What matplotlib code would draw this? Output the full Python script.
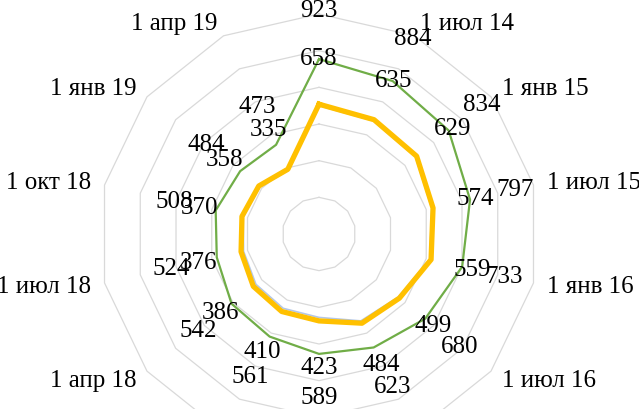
import numpy as np
import matplotlib.pyplot as plt

plt.rcParams['font.family'] = ['Liberation Serif', 'DejaVu Serif']

dates = ['1 янв 14', '1 июл 14', '1 янв 15', '1 июл 15', '1 янв 16', '1 июл 16',
         '1 янв 17', '1 июл 17', '1 янв 18', '1 апр 18', '1 июл 18', '1 окт 18',
         '1 янв 19', '1 апр 19']
outer_vals = [923, 884, 834, 797, 733, 680, 623, 589, 561, 542, 524, 508, 484, 473]
mid_vals = [658, 635, 629, 574, 559, 499, 484, 423, 410, 386, 376, 370, 358, 335]
green = [654, 626, 605, 545, 501, 441, 387, 354, 321, 310, 272, 278, 250, 240]
yellow = [408, 392, 381, 338, 327, 261, 240, 174, 169, 158, 136, 131, 120, 92]
blue = [400, 385, 374, 331, 320, 252, 226, 155, 150, 140, 122, 124, 113, 85]
rings = [-100, 100, 300, 500, 700, 900]

n = len(dates)
theta = np.arange(n) * 2 * np.pi / n
th_c = np.append(theta, theta[0])

def closed(v):
    return np.append(v, v[0])

fig = plt.figure(figsize=(6.39, 4.10), dpi=100)
ax = fig.add_axes([0.15493, -0.10976, 0.68858, 1.07317], projection='polar')
ax.set_theta_zero_location('N')
ax.set_theta_direction(-1)
ax.set_ylim(-300, 900)
ax.axis('off')

# polygon grid
for r in rings:
    ax.plot(th_c, closed(np.full(n, r)), color='#d9d9d9', lw=0.9, clip_on=False, zorder=1)

ax.plot(th_c, closed(blue), color='#b4c7e7', lw=1.2, clip_on=False, zorder=2)
ax.plot(th_c, closed(yellow), color='#ffc000', lw=3.8, clip_on=False, zorder=3)
ax.plot(th_c, closed(green), color='#70ad47', lw=1.6, clip_on=False, zorder=4)

# data labels
for t, v in zip(theta, outer_vals):
    ax.text(t, v, str(v), ha='center', va='center', fontsize=18, zorder=5)
for t, v in zip(theta, mid_vals):
    ax.text(t, v, str(v), ha='center', va='center', fontsize=18, zorder=5)

# category labels
for t, lab in zip(theta, dates):
    deg = np.degrees(t)
    if np.isclose(deg, 0):
        ha, va = 'center', 'bottom'
    elif np.isclose(deg, 180):
        ha, va = 'center', 'top'
    elif deg < 180:
        ha, va = 'left', 'center'
    else:
        ha, va = 'right', 'center'
    ax.text(t, 975, lab, ha=ha, va=va, fontsize=18)

fig.savefig('out.png', dpi=100)
